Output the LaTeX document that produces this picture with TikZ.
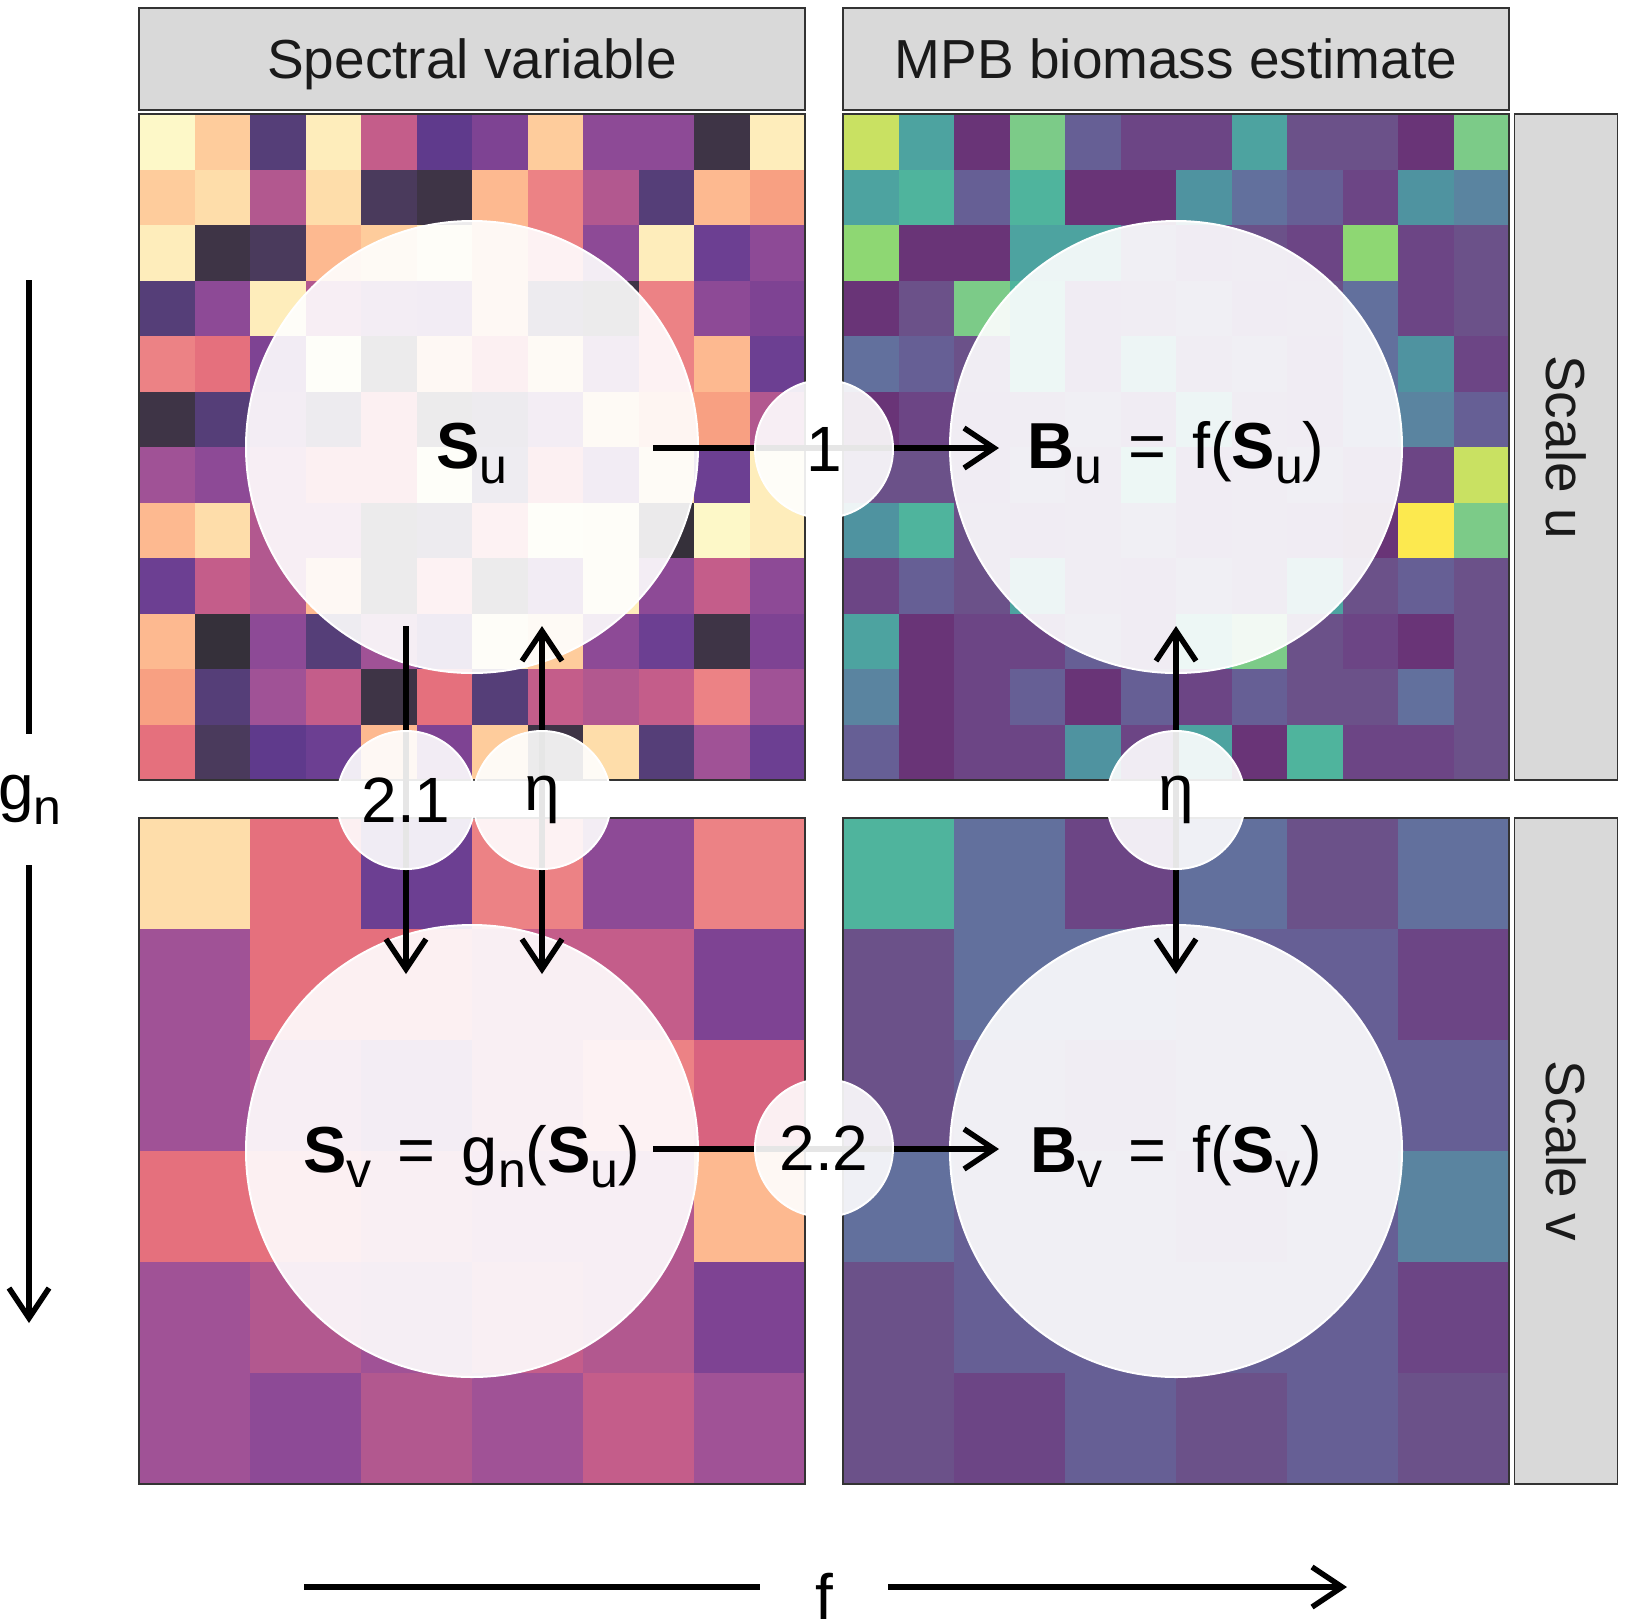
\documentclass[tikz,border=0pt]{standalone}
\usepackage{fontspec}
\setmainfont{Liberation Sans}
\usetikzlibrary{arrows.meta}
% magma-like (blended) colours
\definecolor{k1}{HTML}{35303A}\definecolor{k2}{HTML}{3E3446}\definecolor{k3}{HTML}{4A3A5C}
\definecolor{k4}{HTML}{553E78}\definecolor{i1}{HTML}{5F3A8C}\definecolor{i2}{HTML}{6C3F92}
\definecolor{p1}{HTML}{7E4393}\definecolor{p2}{HTML}{8D4A96}\definecolor{p3}{HTML}{A05296}
\definecolor{m1}{HTML}{B2588F}\definecolor{m2}{HTML}{C45D8A}\definecolor{r1}{HTML}{D8637F}
\definecolor{r2}{HTML}{E5707D}\definecolor{s1}{HTML}{EC8285}\definecolor{o1}{HTML}{F8A082}
\definecolor{o2}{HTML}{FDB990}\definecolor{y1}{HTML}{FECC9C}\definecolor{y2}{HTML}{FEDDAA}
\definecolor{y3}{HTML}{FEEDBB}\definecolor{y4}{HTML}{FDF8C8}
% viridis-like (blended) colours
\definecolor{v0}{HTML}{693477}\definecolor{v1}{HTML}{6C4585}\definecolor{v2}{HTML}{6B5189}
\definecolor{v3}{HTML}{665F95}\definecolor{v4}{HTML}{62709D}\definecolor{v5}{HTML}{5A84A0}
\definecolor{v6}{HTML}{4F93A0}\definecolor{v7}{HTML}{4DA3A0}\definecolor{v8}{HTML}{4FB49D}
\definecolor{v9}{HTML}{7CCB88}\definecolor{va}{HTML}{8ED773}\definecolor{vb}{HTML}{C9E162}
\definecolor{vc}{HTML}{FCE94F}
\definecolor{stripfill}{HTML}{D9D9D9}
\definecolor{bord}{HTML}{333333}
\definecolor{txt}{HTML}{1A1A1A}

\newcommand\pixgrid[4]{%
  \foreach \rw [count=\ri from 0] in {#4} {
    \foreach \clr [count=\ci from 0] in \rw {
      \fill[fill=\clr] ({#1+\ci*#3},{#2+\ri*#3}) rectangle ++({#3+0.8},{#3+0.8});
    }
  }
}
\newcommand\sbs[1]{\raisebox{-15pt}{\fontsize{50}{50}\selectfont #1}}
\newcommand\eqs{\hspace{26pt}=\hspace{26pt}}

\begin{document}
\begin{tikzpicture}[x=1pt,y=-1pt,
  bigc/.style={circle, minimum size=452pt, inner sep=0pt, fill=white, fill opacity=0.9,
    text opacity=1, draw=white, draw opacity=1, line width=2pt,
    text height=46pt, text depth=4pt,
    font=\fontsize{65}{65}\selectfont},
  smallc/.style={circle, minimum size=138pt, inner sep=0pt, fill=white, fill opacity=0.9,
    text opacity=1, draw=white, draw opacity=1, line width=2pt,
    font=\fontsize{64}{64}\selectfont},
  panelbox/.style={draw=bord, line width=2pt},
  hdr/.style={rectangle, minimum width=666pt, minimum height=102pt, inner sep=0pt,
    fill=stripfill, draw=bord, line width=1.5pt, text=txt, text height=39.4pt, text depth=0pt,
    font=\fontsize{55}{55}\selectfont},
  sidestrip/.style={hdr, rotate=-90, minimum width=666pt, minimum height=103pt},
  arr/.style={line width=5.5pt, -{Straight Barb[length=30pt,width=40pt]}},
  darr/.style={line width=5.5pt, {Straight Barb[length=30pt,width=40pt]}-{Straight Barb[length=30pt,width=40pt]}},
  plainline/.style={line width=5.5pt},
  axlabel/.style={inner sep=0pt, font=\fontsize{64}{64}\selectfont}
]
\useasboundingbox (0,0) rectangle (1625,1618);

% ---- pixel grids ----
\pixgrid{139}{114}{55.5}{
{y4,y1,k4,y3,m2,i1,p1,y1,p2,p2,k2,y3},
{y1,y2,m1,y2,k3,k2,o2,s1,m1,k4,o2,o1},
{y3,k2,k3,o2,y1,y3,o2,s1,p2,y3,i2,p2},
{k4,p2,y3,m1,p2,p1,o2,k3,k2,s1,p2,p1},
{s1,r2,p1,y4,k2,o2,r2,y1,p2,s1,o2,i2},
{k2,k4,p2,k3,r2,k2,k3,p2,y1,o1,o1,m1},
{p3,p2,m1,r2,r2,y4,k4,r2,p1,y2,i2,y3},
{o2,y2,m1,m1,k2,k3,s1,y4,y3,k1,y4,y3},
{i2,m2,m1,o2,k2,s1,k2,p1,y3,p2,m2,p2},
{o2,k1,p2,k4,p3,i1,y3,y1,p2,i2,k2,p1},
{o1,k4,p3,m2,k2,r2,k4,m2,m1,m2,s1,p3},
{r2,k3,i1,i2,o2,p1,y1,k2,y2,k4,p3,i2}}

\pixgrid{843}{114}{55.5}{
{vb,v7,v0,v9,v3,v1,v1,v7,v2,v2,v0,v9},
{v7,v8,v3,v8,v0,v0,v6,v4,v3,v1,v6,v5},
{va,v0,v0,v7,v7,v3,v1,v2,v1,va,v1,v2},
{v0,v2,v9,v8,v1,v2,v3,v1,v2,v4,v1,v2},
{v4,v3,v2,v8,v1,v7,v2,v3,v1,v4,v6,v1},
{v0,v1,v1,v2,v3,v1,v7,v2,v1,v4,v5,v3},
{v2,v2,v1,v3,v2,v8,v1,v2,v3,v1,v1,vb},
{v6,v8,v2,v1,v2,v3,v1,v2,v1,v0,vc,v9},
{v1,v3,v2,v7,v2,v1,v3,v2,v7,v2,v3,v2},
{v7,v0,v1,v1,v3,v1,v8,v9,v2,v1,v0,v2},
{v5,v0,v1,v3,v0,v3,v1,v3,v2,v2,v4,v2},
{v3,v0,v1,v1,v6,v1,v7,v0,v8,v1,v1,v2}}

\pixgrid{139}{818}{111}{
{y2,r2,i2,s1,p2,s1},
{p3,r2,r2,m2,m2,p1},
{p3,m1,p2,m2,s1,r1},
{r2,r2,m2,m1,m1,o2},
{p3,m1,p3,m2,m1,p1},
{p3,p2,m1,p3,m2,p3}}

\pixgrid{843}{818}{111}{
{v8,v4,v1,v4,v2,v4},
{v2,v4,v4,v3,v3,v1},
{v2,v3,v2,v3,v3,v3},
{v4,v3,v3,v2,v3,v5},
{v2,v3,v3,v3,v3,v1},
{v2,v1,v3,v2,v3,v2}}

% ---- panel borders ----
\draw[panelbox] (139,114) rectangle (805,780);
\draw[panelbox] (843,114) rectangle (1509,780);
\draw[panelbox] (139,818) rectangle (805,1484);
\draw[panelbox] (843,818) rectangle (1509,1484);

% ---- strips ----
\node[hdr] (h1) at (472,59) {Spectral variable};
\node[hdr] (h2) at (1176,59) {MPB biomass estimate};
\node[sidestrip] (su) at (1566,447) {Scale u};
\node[sidestrip] (sv) at (1566,1151) {Scale v};

% ---- big circles ----
\node[bigc] (Su) at (472,447) {\textbf{S}\sbs{u}};
\node[bigc] (Bu) at (1176,447) {\textbf{B}\sbs{u}\eqs f(\textbf{S}\sbs{u})};
\node[bigc] (Sv) at (472,1151) {\textbf{S}\sbs{v}\eqs g\sbs{n}(\textbf{S}\sbs{u})};
\node[bigc] (Bv) at (1176,1151) {\textbf{B}\sbs{v}\eqs f(\textbf{S}\sbs{v})};

% ---- connectors ----
\draw[arr] ([xshift=181pt,yshift=-1pt]Su.center) -- ([xshift=-177pt,yshift=-1pt]Bu.center);
\draw[arr] ([xshift=181pt,yshift=2pt]Sv.center) -- ([xshift=-177pt,yshift=2pt]Bv.center);
\draw[arr] ([xshift=-66pt,yshift=-179pt]Su.center) -- ([xshift=-66pt,yshift=177pt]Sv.center);
\draw[darr] ([xshift=70pt,yshift=-179pt]Su.center) -- ([xshift=70pt,yshift=177pt]Sv.center);
\draw[darr] ([yshift=-179pt]Bu.center) -- ([yshift=177pt]Bv.center);

% ---- small circles ----
\node[smallc] (n1) at (824,449) {1};
\node[smallc] (n21) at (406,800) {2.1};
\node[smallc] (neta1) at (542,800) {η};
\node[smallc] (neta2) at (1176,800) {η};
\node[smallc] (n22) at (824,1148) {2.2};

% ---- axes ----
\node[axlabel, anchor=west] (gn) at (-2,800) {g\sbs{n}};
\coordinate (gtop) at (29,280);
\coordinate (gmid1) at (29,734);
\coordinate (gmid2) at (29,865);
\coordinate (gbot) at (29,1323);
\draw[plainline] (gtop) -- (gmid1);
\draw[arr] (gmid2) -- (gbot);

\node[axlabel, anchor=base] (fl) at (824,1619) {f};
\coordinate (fl1) at (304,1587);
\coordinate (fl2) at (760,1587);
\coordinate (fr1) at (888,1587);
\coordinate (fr2) at (1347,1587);
\draw[plainline] (fl1) -- (fl2);
\draw[arr] (fr1) -- (fr2);
\end{tikzpicture}
\end{document}
